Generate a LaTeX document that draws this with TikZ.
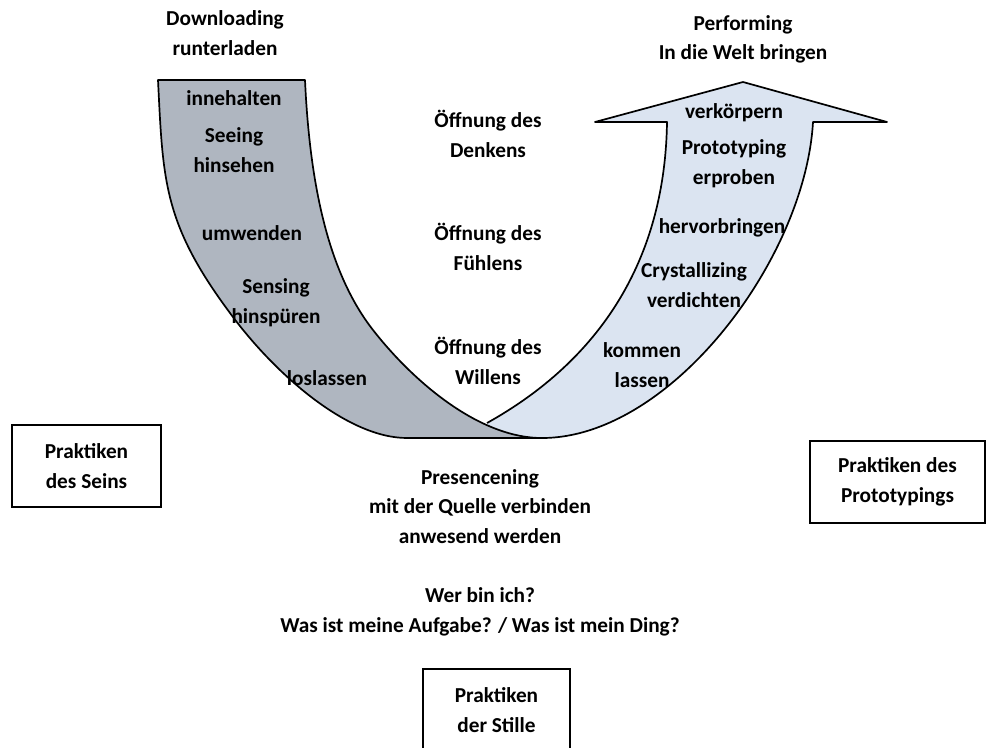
\documentclass[tikz,border=0pt]{standalone}
\usepackage{fontspec}
\setmainfont{Carlito}
\definecolor{greyband}{RGB}{175,182,192}
\definecolor{blueband}{RGB}{219,228,241}
\begin{document}
\begin{tikzpicture}[x=1pt,y=-1pt,
  lbl/.style={font=\fontsize{21.3}{29.5}\selectfont\bfseries, align=center, inner sep=0pt, anchor=base},
  practice/.style={draw, line width=1.7pt, font=\fontsize{21.3}{29.5}\selectfont\bfseries,
    align=center, inner sep=0pt, minimum height=82pt},
  outline/.style={line width=1.7pt, line join=round}]
\useasboundingbox (0,0) rectangle (987,747);

% rising arrow (light blue)
\fill[blueband] (487,423) .. controls (600,360) and (665,260) .. (667,122)
  -- (595,122) -- (743,82) -- (887,122) -- (813,122)
  .. controls (805,260) and (670,438) .. (542,438) -- (487,438) -- cycle;
\draw[outline] (487,423) .. controls (600,360) and (665,260) .. (667,122)
  -- (595,122) -- (743,82) -- (887,122) -- (813,122)
  .. controls (805,260) and (670,438) .. (542,438);

% descending band (grey)
\filldraw[fill=greyband, outline] (158,80) -- (305,80)
  .. controls (310,190) and (330,275) .. (373,330)
  .. controls (412,380) and (478,438) .. (542,438)
  -- (407,438)
  .. controls (347,438) and (274,373) .. (230,313)
  .. controls (163,223) and (163,180) .. (158,80) -- cycle;

% headings (node base = baseline of the last line)
\node[lbl] (down) at (225,55) {Downloading\\runterladen};
\node[lbl] (perf) at (743,59.5) {Performing\\In die Welt bringen};

% left band
\node[lbl] (inne) at (234,105) {innehalten};
\node[lbl] (see)  at (234,172) {Seeing\\hinsehen};
\node[lbl] (umw)  at (252,240) {umwenden};
\node[lbl] (sens) at (276,323) {Sensing\\hinspüren};
\node[lbl] (los)  at (327,385) {loslassen};

% middle column
\node[lbl] (denk) at (488,157) {Öffnung des\\Denkens};
\node[lbl] (fuehl) at (488,270) {Öffnung des\\Fühlens};
\node[lbl] (will) at (488,384) {Öffnung des\\Willens};

% right arrow
\node[lbl] (verk) at (734,118) {verkörpern};
\node[lbl] (proto) at (734,184) {Prototyping\\erproben};
\node[lbl] (herv) at (722,233) {hervorbringen};
\node[lbl] (cryst) at (694,307) {Crystallizing\\verdichten};
\node[lbl] (komm) at (642,387) {kommen\\lassen};

% bottom
\node[lbl] (pres) at (480,543) {Presencening\\mit der Quelle verbinden\\anwesend werden};
\node[lbl] (wer)  at (480,632) {Wer bin ich?\\Was ist meine Aufgabe? / Was ist mein Ding?};

% practice boxes
\node[practice, minimum width=149pt] (seins) at (86.5,466) {Praktiken\\des Seins};
\node[practice, minimum width=175pt] (ptyp) at (897.5,482) {Praktiken des\\Prototypings};
\node[practice, minimum width=147pt] (still) at (496.5,710) {Praktiken\\der Stille};
\end{tikzpicture}
\end{document}
